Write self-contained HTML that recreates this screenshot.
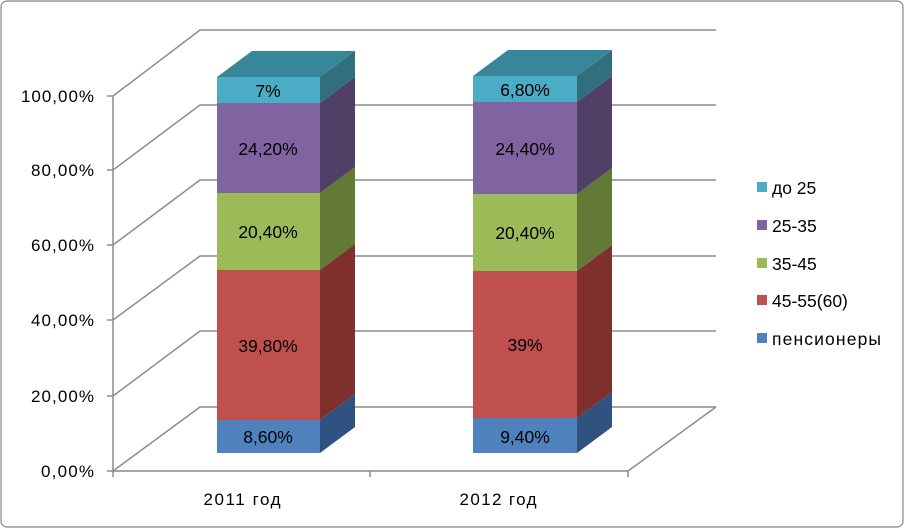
<!DOCTYPE html>
<html><head><meta charset="utf-8"><style>
body{margin:0;background:#fff}
svg{display:block;font-family:"Liberation Sans",sans-serif}
</style></head><body>
<svg width="905" height="529" viewBox="0 0 905 529">
<rect x="1" y="1" width="902" height="526" rx="6" fill="#fff" stroke="#868686" stroke-width="1.2"/>
<g stroke="#8c8c8c" stroke-width="1.5" fill="none">
<polyline points="113,471 200,407 716,407"/>
<polyline points="113,396 200,331 716,331"/>
<polyline points="113,320 200,256 716,256"/>
<polyline points="113,245 200,180 716,180"/>
<polyline points="113,170 200,105 716,105"/>
<polyline points="113,96 200,30 716,30"/>
<line x1="113" y1="96" x2="113" y2="471"/>
<line x1="113" y1="471" x2="628" y2="471"/>
<line x1="628" y1="471" x2="716" y2="407"/>
<line x1="107" y1="471" x2="113" y2="471"/><line x1="107" y1="396" x2="113" y2="396"/>
<line x1="107" y1="320" x2="113" y2="320"/><line x1="107" y1="245" x2="113" y2="245"/>
<line x1="107" y1="170" x2="113" y2="170"/><line x1="107" y1="96" x2="113" y2="96"/>
<line x1="113" y1="471" x2="113" y2="477"/><line x1="370" y1="471" x2="370" y2="477"/><line x1="628" y1="471" x2="628" y2="477"/>
</g>
<g font-size="17" fill="#000" text-anchor="end">
<text x="94" y="477" textLength="53">0,00%</text><text x="94" y="402" textLength="63">20,00%</text><text x="94" y="326" textLength="63">40,00%</text>
<text x="94" y="251" textLength="63">60,00%</text><text x="94" y="176" textLength="63">80,00%</text><text x="94" y="102" textLength="73">100,00%</text>
</g>
<g font-size="17" text-anchor="middle"><text x="242" y="505" textLength="77">2011 год</text><text x="498" y="505" textLength="77">2012 год</text></g>
<g>
<polygon points="320,420 355,394 355,427 320,453" fill="#2F5280"/>
<rect x="217" y="420" width="103" height="33" fill="#4F81BD"/>
<polygon points="320,270 355,244 355,394 320,420" fill="#7F302D"/>
<rect x="217" y="270" width="103" height="150" fill="#C0504D"/>
<polygon points="320,193 355,167 355,244 320,270" fill="#627A35"/>
<rect x="217" y="193" width="103" height="77" fill="#9BBB59"/>
<polygon points="320,103 355,77 355,167 320,193" fill="#514066"/>
<rect x="217" y="103" width="103" height="90" fill="#8064A2"/>
<polygon points="320,77 355,51 355,77 320,103" fill="#316F7E"/>
<rect x="217" y="77" width="103" height="26" fill="#4BACC6"/>
<polygon points="217,77 252,51 355,51 320,77" fill="#37869A"/>
</g>
<g>
<polygon points="577,418 612,392 612,427 577,453" fill="#2F5280"/>
<rect x="473" y="418" width="104" height="35" fill="#4F81BD"/>
<polygon points="577,271 612,245 612,392 577,418" fill="#7F302D"/>
<rect x="473" y="271" width="104" height="147" fill="#C0504D"/>
<polygon points="577,194 612,168 612,245 577,271" fill="#627A35"/>
<rect x="473" y="194" width="104" height="77" fill="#9BBB59"/>
<polygon points="577,102 612,76 612,168 577,194" fill="#514066"/>
<rect x="473" y="102" width="104" height="92" fill="#8064A2"/>
<polygon points="577,76 612,50 612,76 577,102" fill="#316F7E"/>
<rect x="473" y="76" width="104" height="26" fill="#4BACC6"/>
<polygon points="473,76 508,50 612,50 577,76" fill="#37869A"/>
</g>
<g font-size="17.5" text-anchor="middle" fill="#000">
<text x="268" y="443">8,60%</text><text x="268" y="352">39,80%</text><text x="268" y="238">20,40%</text>
<text x="268" y="155">24,20%</text><text x="268" y="97">7%</text>
<text x="525" y="443">9,40%</text><text x="525" y="351">39%</text><text x="525" y="239">20,40%</text>
<text x="525" y="155">24,40%</text><text x="525" y="96">6,80%</text>
</g>
<g font-size="17.5" fill="#000">
<rect x="757" y="182" width="10" height="10" fill="#4BACC6"/><text x="772" y="194">до 25</text>
<rect x="757" y="220" width="10" height="10" fill="#8064A2"/><text x="772" y="232">25-35</text>
<rect x="757" y="258" width="10" height="10" fill="#9BBB59"/><text x="772" y="270">35-45</text>
<rect x="757" y="295" width="10" height="10" fill="#C0504D"/><text x="772" y="307">45-55(60)</text>
<rect x="757" y="333" width="10" height="10" fill="#4F81BD"/><text x="772" y="345" textLength="109">пенсионеры</text>
</g>
</svg>
</body></html>
